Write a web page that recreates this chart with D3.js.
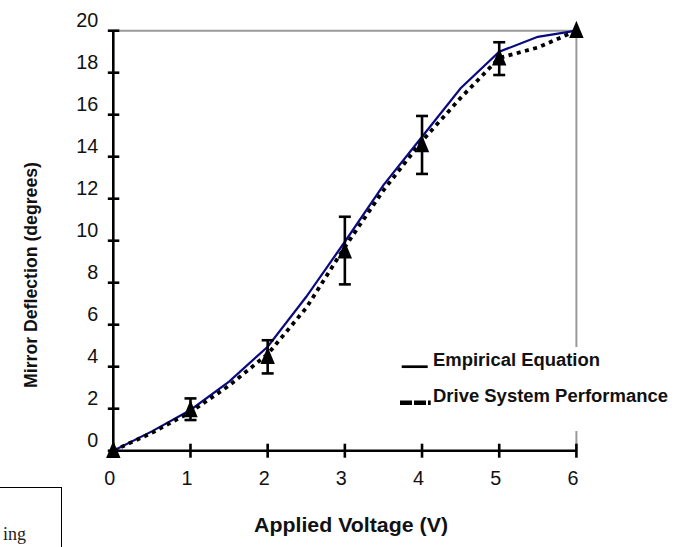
<!DOCTYPE html>
<html><head><meta charset="utf-8">
<script src="https://cdn.jsdelivr.net/npm/d3@7"></script>
<style>body{margin:0;background:#fff}svg{display:block}</style>
</head><body><svg id="c" width="683" height="547"></svg>
<script>
const voltageTicks = [0, 1, 2, 3, 4, 5, 6];
const deflectionTicks = [0, 2, 4, 6, 8, 10, 12, 14, 16, 18, 20];
const curveVoltages = [0, 0.5, 1, 1.5, 2, 2.5, 3, 3.5, 4, 4.5, 5, 5.5, 6];
const empiricalValues = [0, 0.92, 1.94, 3.29, 4.95, 7.33, 9.95, 12.65, 14.95, 17.26, 19.0, 19.71, 20.0];
const driveValues = [0, 0.85, 1.84, 3.1, 4.6, 6.8, 9.7, 12.4, 14.75, 16.8, 18.7, 19.2, 20.0];
const measuredVoltages = [0, 1, 2, 3, 4, 5, 6];
const measuredValues = [0, 1.94, 4.48, 9.5, 14.56, 18.69, 20];
const errorLow = [null, 1.46, 3.68, 7.92, 13.18, 17.89, null];
const errorHigh = [null, 2.49, 5.26, 11.14, 15.94, 19.45, null];
const legendLabels = ["Empirical Equation", "Drive System Performance"];
const xTitle = "Applied Voltage (V)";
const yTitle = "Mirror Deflection (degrees)";

const svg = d3.select("#c");
const x = d3.scaleLinear([0, 6], [113.3, 576.4]);
const y = d3.scaleLinear([0, 20], [450.7, 30.7]);
const font = "'Liberation Sans', Arial, Helvetica, sans-serif";
const fmt = d3.format("d");

// grey frame (top and right)
svg.append("path")
  .attr("d", d3.line()([[x(0), y(20)], [x(6), y(20)], [x(6), y(0)]]))
  .attr("fill", "none").attr("stroke", "#9a9a9a").attr("stroke-width", 2);

// legend background hides part of the right frame
svg.append("rect").attr("x", 398).attr("y", 347).attr("width", 285).attr("height", 84).attr("fill", "#fff");

// Y axis
const yAxis = svg.append("g").attr("transform", `translate(${x(0)},0)`)
  .call(d3.axisLeft(y).tickValues(deflectionTicks).tickFormat(fmt).tickSize(0).tickPadding(15));
yAxis.select(".domain").remove();
yAxis.selectAll("text")
  .attr("font-family", font).attr("font-size", 19.5).attr("fill", "#111")
  .attr("dy", 0).attr("transform", "translate(0,-4)")
  .attr("textLength", d => fmt(d).length * 11).attr("lengthAdjust", "spacingAndGlyphs");

// X axis
const xAxis = svg.append("g").attr("transform", `translate(0,${y(0)})`)
  .call(d3.axisBottom(x).tickValues(voltageTicks).tickFormat(fmt).tickSize(0).tickPadding(0));
xAxis.select(".domain").remove();
xAxis.selectAll("text")
  .attr("font-family", font).attr("font-size", 19.5).attr("fill", "#111")
  .attr("y", 34.5).attr("dy", 0).attr("dx", -4)
  .attr("textLength", 11).attr("lengthAdjust", "spacingAndGlyphs");

// axis lines
svg.append("line").attr("x1", x(0)).attr("x2", x(0)).attr("y1", y(20)).attr("y2", y(0))
  .attr("stroke", "#000").attr("stroke-width", 2.6);
svg.append("line").attr("x1", x(0)).attr("x2", x(6)).attr("y1", y(0)).attr("y2", y(0))
  .attr("stroke", "#000").attr("stroke-width", 2.6);
// tick marks crossing axes
svg.append("g").selectAll("line").data(deflectionTicks).join("line")
  .attr("x1", x(0) - 5.5).attr("x2", x(0) + 6).attr("y1", d => y(d)).attr("y2", d => y(d))
  .attr("stroke", "#000").attr("stroke-width", 2.6);
svg.append("g").selectAll("line").data(voltageTicks).join("line")
  .attr("x1", d => x(d)).attr("x2", d => x(d)).attr("y1", y(0) - 7).attr("y2", y(0) + 7)
  .attr("stroke", "#000").attr("stroke-width", 2.6);

// curves
const line = d3.line().x((d, i) => x(curveVoltages[i])).y(d => y(d));
svg.append("path").attr("d", line(empiricalValues))
  .attr("fill", "none").attr("stroke", "#0a0a80").attr("stroke-width", 2.2);
svg.append("path").attr("d", line(driveValues))
  .attr("fill", "none").attr("stroke", "#000").attr("stroke-width", 3.8).attr("stroke-dasharray", "4,4.5");

// error bars
const eb = measuredVoltages.map((v, i) => ({v, lo: errorLow[i], hi: errorHigh[i]})).filter(d => d.lo !== null);
const ebG = svg.append("g").attr("stroke", "#000").attr("stroke-width", 2.6);
ebG.selectAll(".v").data(eb).join("line").attr("class", "v")
  .attr("x1", d => x(d.v)).attr("x2", d => x(d.v)).attr("y1", d => y(d.lo)).attr("y2", d => y(d.hi));
ebG.selectAll(".t").data(eb).join("line").attr("class", "t")
  .attr("x1", d => x(d.v) - 6).attr("x2", d => x(d.v) + 6).attr("y1", d => y(d.hi)).attr("y2", d => y(d.hi));
ebG.selectAll(".b").data(eb).join("line").attr("class", "b")
  .attr("x1", d => x(d.v) - 6).attr("x2", d => x(d.v) + 6).attr("y1", d => y(d.lo)).attr("y2", d => y(d.lo));

// triangle markers (taller than equilateral)
const tallTriangle = {
  draw(ctx, size) {
    const w = Math.sqrt(size) * 0.62, h = Math.sqrt(size) * 0.85;
    ctx.moveTo(0, -h); ctx.lineTo(w, h * 0.75); ctx.lineTo(-w, h * 0.75); ctx.closePath();
  }
};
svg.append("g").selectAll("path").data(measuredVoltages).join("path")
  .attr("transform", (d, i) => `translate(${x(d)},${y(measuredValues[i])})`)
  .attr("d", d3.symbol().type(tallTriangle).size(135)).attr("fill", "#000");

// legend
svg.append("line").attr("x1", 401.7).attr("x2", 427.7).attr("y1", 366.7).attr("y2", 366.7)
  .attr("stroke", "#000").attr("stroke-width", 2.7);
svg.append("line").attr("x1", 400).attr("x2", 430.7).attr("y1", 402.7).attr("y2", 402.7)
  .attr("stroke", "#000").attr("stroke-width", 4.6).attr("stroke-dasharray", "12,2");
svg.append("g").selectAll("text").data(legendLabels).join("text")
  .attr("x", 433).attr("y", (d, i) => i === 0 ? 366 : 401.5)
  .attr("font-family", font).attr("font-weight", "bold").attr("font-size", 18).attr("fill", "#111")
  .attr("textLength", (d, i) => i === 0 ? 167 : 235).attr("lengthAdjust", "spacingAndGlyphs")
  .text(d => d);

// axis titles
svg.append("text").attr("x", 351).attr("y", 532).attr("text-anchor", "middle")
  .attr("font-family", font).attr("font-weight", "bold").attr("font-size", 19.5).attr("fill", "#111")
  .attr("textLength", 194).attr("lengthAdjust", "spacingAndGlyphs").text(xTitle);
svg.append("text").attr("transform", "translate(37,275) rotate(-90)").attr("text-anchor", "middle")
  .attr("font-family", font).attr("font-weight", "bold").attr("font-size", 19).attr("fill", "#111")
  .attr("textLength", 226).attr("lengthAdjust", "spacingAndGlyphs").text(yTitle);

// cropped box at lower left
svg.append("rect").attr("x", -2).attr("y", 487.5).attr("width", 63.5).attr("height", 70)
  .attr("fill", "none").attr("stroke", "#000").attr("stroke-width", 1);
svg.append("text").attr("x", 3).attr("y", 540)
  .attr("font-family", "'Liberation Serif', 'Times New Roman', serif").attr("font-size", 18).attr("fill", "#222")
  .text("ing");
</script></body></html>
